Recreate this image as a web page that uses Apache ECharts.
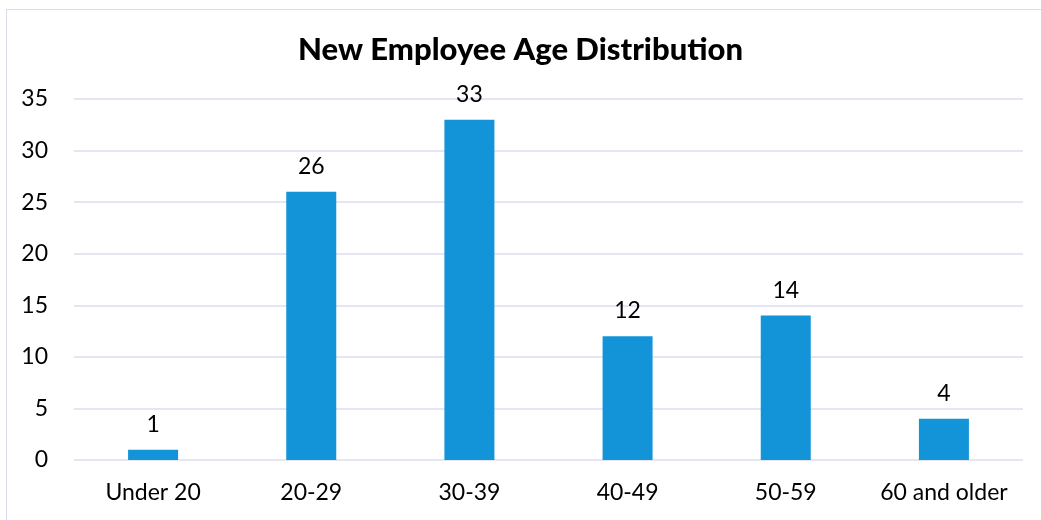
<!DOCTYPE html>
<html>
<head>
<meta charset="utf-8">
<script src="https://cdn.jsdelivr.net/npm/echarts@6/dist/echarts.min.js"></script>
<style>
  html, body { margin: 0; padding: 0; background: #ffffff; }
  #frame { position: absolute; left: 6px; top: 9px; width: 1050px; height: 530px;
           border: 1.5px solid #dadbee; box-sizing: border-box; }
  #chart { position: absolute; left: 0; top: 0; width: 1041px; height: 520px; }
</style>
</head>
<body>
<div id="frame"></div>
<div id="chart"></div>
<script>
// Age bands and number of new hires in each
const categories = ['Under 20', '20-29', '30-39', '40-49', '50-59', '60 and older'];
const employees = [1, 26, 33, 12, 14, 4];
const yTicks = [0, 5, 10, 15, 20, 25, 30, 35];

const FONT = 'Lato, "Open Sans", sans-serif';

const chart = echarts.init(document.getElementById('chart'), null, { renderer: 'canvas' });
chart.setOption({
  backgroundColor: 'transparent',
  animation: false,
  title: {
    text: 'New Employee Age Distribution',
    left: 'center',
    top: 29,
    textStyle: { fontFamily: FONT, fontWeight: 900, fontSize: 31, color: '#000000' }
  },
  grid: { left: 74, right: 18, top: 99, bottom: 60, containLabel: false },
  xAxis: {
    type: 'category',
    data: categories,
    axisLine: { show: false },
    axisTick: { show: false },
    axisLabel: { interval: 0, hideOverlap: false, fontFamily: FONT, fontSize: 23, color: '#000000', margin: 21 }
  },
  yAxis: {
    type: 'value',
    min: yTicks[0],
    max: yTicks[yTicks.length - 1],
    interval: 5,
    axisLine: { show: false },
    axisTick: { show: false },
    axisLabel: { fontFamily: FONT, fontSize: 23, color: '#000000', margin: 26 },
    splitLine: { lineStyle: { color: '#dcdcef', width: 1.5 } }
  },
  series: [{
    type: 'bar',
    data: employees,
    barWidth: 50,
    itemStyle: { color: '#1394d8' },
    label: {
      show: true,
      position: 'top',
      distance: 14,
      fontFamily: FONT,
      fontSize: 23,
      color: '#000000'
    }
  }]
});
</script>
</body>
</html>
